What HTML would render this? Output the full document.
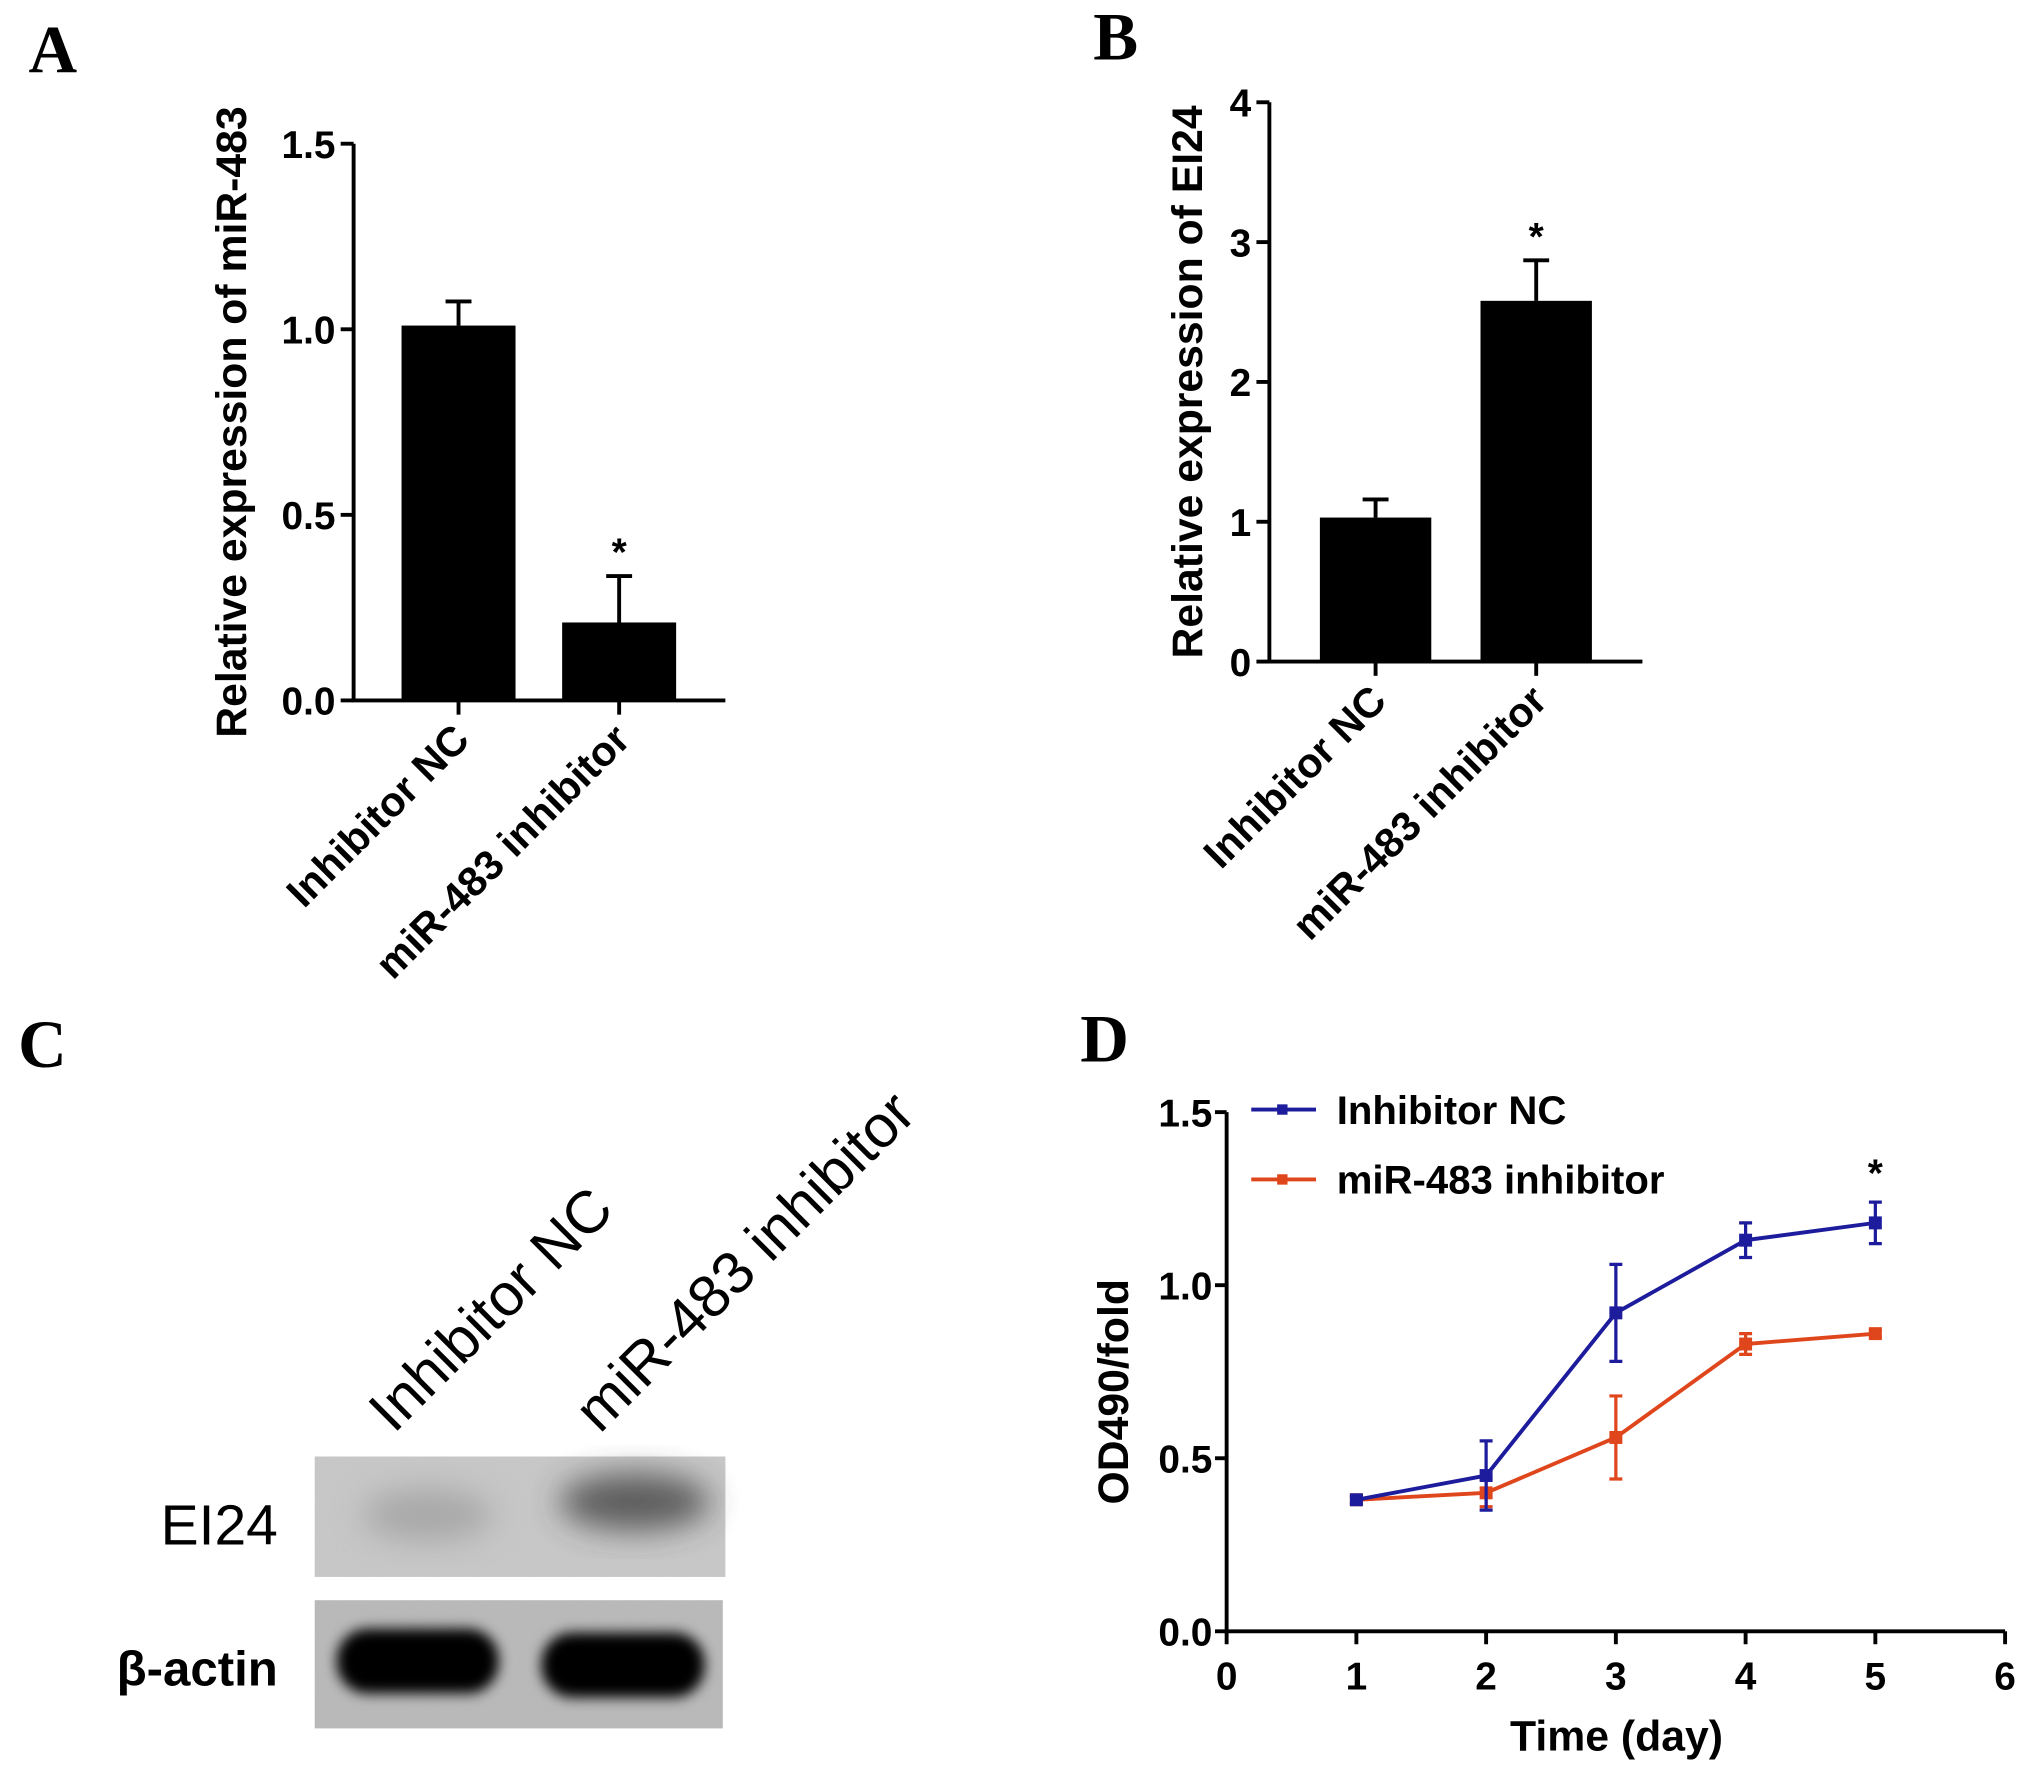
<!DOCTYPE html>
<html><head><meta charset="utf-8"><style>
html,body{margin:0;padding:0;background:#fff}
svg{display:block}
text{font-family:"Liberation Sans",Arial,sans-serif}
text.serif{font-family:"Liberation Serif","Times New Roman",serif}
</style></head><body>
<svg id="fig" width="2031" height="1775" viewBox="0 0 1568 1371" preserveAspectRatio="none" xmlns="http://www.w3.org/2000/svg">
<defs>
<filter id="blur6" x="-50%" y="-50%" width="200%" height="200%"><feGaussianBlur stdDeviation="5"/></filter>
<filter id="blur12" x="-50%" y="-50%" width="200%" height="200%"><feGaussianBlur stdDeviation="12"/></filter>
<filter id="noise" x="0" y="0" width="1" height="1"><feTurbulence type="fractalNoise" baseFrequency="0.9" numOctaves="2" seed="3"/><feColorMatrix type="matrix" values="0 0 0 0 0.5 0 0 0 0 0.5 0 0 0 0 0.5 0 0 0 0.35 0"/></filter>
</defs>
<g id="A"></g>
<g id="B"></g>
<g id="C">
  <text class="serif" x="14" y="824" font-weight="bold" font-size="52">C</text>
  <text transform="translate(304,1108) rotate(-45)" font-size="46">Inhibitor NC</text>
  <text transform="translate(463,1108) rotate(-45)" font-size="46">miR-483 inhibitor</text>
  <g>
    <rect x="243" y="1125" width="317" height="93" fill="#c9c9c9"/>
    <rect x="243" y="1125" width="317" height="93" filter="url(#noise)"/>
    <ellipse cx="330" cy="1170" rx="50" ry="20" fill="#8a8a8a" opacity="0.5" filter="url(#blur12)"/>
    <ellipse cx="490" cy="1160" rx="58" ry="22" fill="#3a3a3a" opacity="0.75" filter="url(#blur12)"/>
  </g>
  <text x="124" y="1193" font-size="44">EI24</text>
  <g>
    <rect x="243" y="1236" width="315" height="99" fill="#b8b8b8"/>
    <rect x="243" y="1236" width="315" height="99" filter="url(#noise)"/>
    <rect x="260" y="1258" width="125" height="50" rx="24" fill="#050505" filter="url(#blur6)"/>
    <rect x="418" y="1261" width="126" height="50" rx="24" fill="#050505" filter="url(#blur6)"/>
  </g>
  <text x="90" y="1302" font-size="38" font-weight="bold">β-actin</text>
</g>
<g id="D"></g>
</svg>
<script>
// Panel A data
const catsA = ["Inhibitor NC", "miR-483 inhibitor"];
const valsA = [1.01, 0.21];
const errA = [0.065, 0.125];
const ticksA = [0, 0.5, 1.0, 1.5];
const tickLabelsA = ["0.0", "0.5", "1.0", "1.5"];
const sigA = ["", "*"];
// Panel B data
const catsB = ["Inhibitor NC", "miR-483 inhibitor"];
const valsB = [1.03, 2.58];
const errB = [0.13, 0.29];
const ticksB = [0, 1, 2, 3, 4];
const tickLabelsB = ["0", "1", "2", "3", "4"];
const sigB = ["", "*"];
// Panel D data
const days = [1, 2, 3, 4, 5];
const ncVals = [0.38, 0.45, 0.92, 1.13, 1.18];
const ncErr = [0.01, 0.10, 0.14, 0.05, 0.06];
const inhVals = [0.38, 0.40, 0.56, 0.83, 0.86];
const inhErr = [0.01, 0.04, 0.12, 0.03, 0.01];
const ticksDx = [0, 1, 2, 3, 4, 5, 6];
const ticksDy = [0, 0.5, 1.0, 1.5];
const tickLabelsDy = ["0.0", "0.5", "1.0", "1.5"];
const sigD = ["", "", "", "", "*"];

const NS = "http://www.w3.org/2000/svg";
function mk(parent, tag, attrs, txt) {
  const e = document.createElementNS(NS, tag);
  for (const k in attrs) e.setAttribute(k, attrs[k]);
  if (txt !== undefined) e.textContent = txt;
  parent.appendChild(e);
  return e;
}

function barPanel(g, cfg) {
  const y = v => cfg.y0 - (v - cfg.vmin) / (cfg.vmax - cfg.vmin) * (cfg.y0 - cfg.y1);
  let t = mk(g, "text", {x: cfg.lx, y: cfg.ly, "class": "serif", "font-weight": "bold", "font-size": 52});
  t.textContent = cfg.letter;
  
  
  let ax = mk(g, "path", {d: `M${cfg.ax} ${cfg.y1} V${cfg.y0} H${cfg.xend}`, stroke: "#000", "stroke-width": 3, fill: "none"});
  
  
  cfg.ticks.forEach((v, i) => {
    const yy = y(v);
    const tk = mk(g, "line", {x1: cfg.ax - 10, x2: cfg.ax, y1: yy, y2: yy, stroke: "#000", "stroke-width": 3});
    
    
    const tl = mk(g, "text", {x: cfg.ax - 14, y: yy + 11, "text-anchor": "end", "font-size": 30, "font-weight": "bold"}, cfg.tickLabels[i]);
    
    
  });
  cfg.cats.forEach((c, i) => {
    const cx = cfg.cx[i];
    const bar = mk(g, "rect", {x: cx - cfg.bw / 2, y: y(cfg.vals[i]), width: cfg.bw, height: cfg.y0 - y(cfg.vals[i]), fill: "#000"});
    
    
    const top = y(cfg.vals[i] + cfg.err[i]);
    const eb = mk(g, "path", {d: `M${cx} ${y(cfg.vals[i])} V${top} M${cx - 10} ${top} H${cx + 10}`, stroke: "#000", "stroke-width": 3, fill: "none"});
    
    
    if (cfg.sig[i]) {
      const s = mk(g, "text", {x: cx, y: top - 8, "text-anchor": "middle", "font-size": 30, "font-weight": "bold"}, cfg.sig[i]);
      
      
    }
    const xt = mk(g, "line", {x1: cx, x2: cx, y1: cfg.y0, y2: cfg.y0 + 11, stroke: "#000", "stroke-width": 3});
    
    
    const xl = mk(g, "text", {transform: `translate(${cx + 10},${cfg.y0 + 32}) rotate(-45)`, "text-anchor": "end", "font-size": 32, "font-weight": "bold"}, c);
    
    
  });
  const yt = mk(g, "text", {transform: `translate(${cfg.tx},${cfg.ty}) rotate(-90)`, "text-anchor": "middle", "font-size": 33, "font-weight": "bold"}, cfg.title);
  
  
}

barPanel(document.getElementById("A"), {letter: "A", lx: 22, ly: 56, ax: 273, y0: 541, y1: 111, xend: 560, vmin: 0, vmax: 1.5,
  ticks: ticksA, tickLabels: tickLabelsA, cats: catsA, vals: valsA, err: errA, sig: sigA, cx: [354, 478], bw: 88,
  tx: 190, ty: 326, title: "Relative expression of miR-483"});
barPanel(document.getElementById("B"), {letter: "B", lx: 844, ly: 46, ax: 980, y0: 511, y1: 79, xend: 1268, vmin: 0, vmax: 4,
  ticks: ticksB, tickLabels: tickLabelsB, cats: catsB, vals: valsB, err: errB, sig: sigB, cx: [1062, 1186], bw: 86,
  tx: 928, ty: 295, title: "Relative expression of EI24"});

// Panel D
(function () {
  const g = document.getElementById("D");
  const ax = 947, y0 = 1260, y1 = 859, x6 = 1548;
  const X = d => ax + d / 6 * (x6 - ax);
  const Y = v => y0 - v / 1.5 * (y0 - y1);
  let t = mk(g, "text", {x: 834, y: 820, "class": "serif", "font-weight": "bold", "font-size": 52}, "D");
  
  
  const a = mk(g, "path", {d: `M${ax} ${y1} V${y0} H${x6}`, stroke: "#000", "stroke-width": 3, fill: "none"});
  
  
  ticksDy.forEach((v, i) => {
    const l = mk(g, "line", {x1: ax - 9, x2: ax, y1: Y(v), y2: Y(v), stroke: "#000", "stroke-width": 3});
    
    
    const tl = mk(g, "text", {x: ax - 11, y: Y(v) + 11, "text-anchor": "end", "font-size": 30, "font-weight": "bold"}, tickLabelsDy[i]);
    
    
  });
  ticksDx.forEach(d => {
    const l = mk(g, "line", {x1: X(d), x2: X(d), y1: y0, y2: y0 + 10, stroke: "#000", "stroke-width": 3});
    
    
    const tl = mk(g, "text", {x: X(d), y: y0 + 45, "text-anchor": "middle", "font-size": 30, "font-weight": "bold"}, String(d));
    
    
  });
  const xt = mk(g, "text", {x: 1248, y: 1352, "text-anchor": "middle", "font-size": 33, "font-weight": "bold"}, "Time (day)");
  
  
  const yt = mk(g, "text", {transform: "translate(871,1075) rotate(-90)", "text-anchor": "middle", "font-size": 33, "font-weight": "bold"}, "OD490/fold");
  
  
  function series(vals, errs, color, name) {
    const sg = mk(g, "g", {});
    
    
    const ln = mk(sg, "polyline", {points: days.map((d, i) => X(d) + "," + Y(vals[i])).join(" "), fill: "none", stroke: color, "stroke-width": 3});
    
    
    days.forEach((d, i) => {
      const x = X(d), yt2 = Y(vals[i] + errs[i]), yb = Y(vals[i] - errs[i]);
      const e = mk(sg, "path", {d: `M${x} ${yt2} V${yb} M${x - 5} ${yt2} H${x + 5} M${x - 5} ${yb} H${x + 5}`, stroke: color, "stroke-width": 2.5, fill: "none"});
      
      
      const p = mk(sg, "rect", {x: x - 5, y: Y(vals[i]) - 5, width: 10, height: 10, fill: color});
      
      
    });
  }
  series(inhVals, inhErr, "#e0461c", "mir483-inhibitor-series");
  series(ncVals, ncErr, "#1c1c9c", "inhibitor-nc-series");
  days.forEach((d, i) => {
    if (sigD[i]) {
      const s = mk(g, "text", {x: X(d), y: Y(ncVals[i] + ncErr[i]) - 12, "text-anchor": "middle", "font-size": 30, "font-weight": "bold"}, sigD[i]);
      
      
    }
  });
  [["Inhibitor NC", "#1c1c9c", 857], ["miR-483 inhibitor", "#e0461c", 911]].forEach(([lab, col, yy]) => {
    const lg = mk(g, "g", {});
    
    
    mk(lg, "line", {x1: 966, x2: 1016, y1: yy, y2: yy, stroke: col, "stroke-width": 3});
    mk(lg, "rect", {x: 986, y: yy - 4, width: 8, height: 8, fill: col});
    mk(lg, "text", {x: 1032, y: yy + 11, "font-size": 31, "font-weight": "bold"}, lab);
  });
})();
</script>
</body></html>
